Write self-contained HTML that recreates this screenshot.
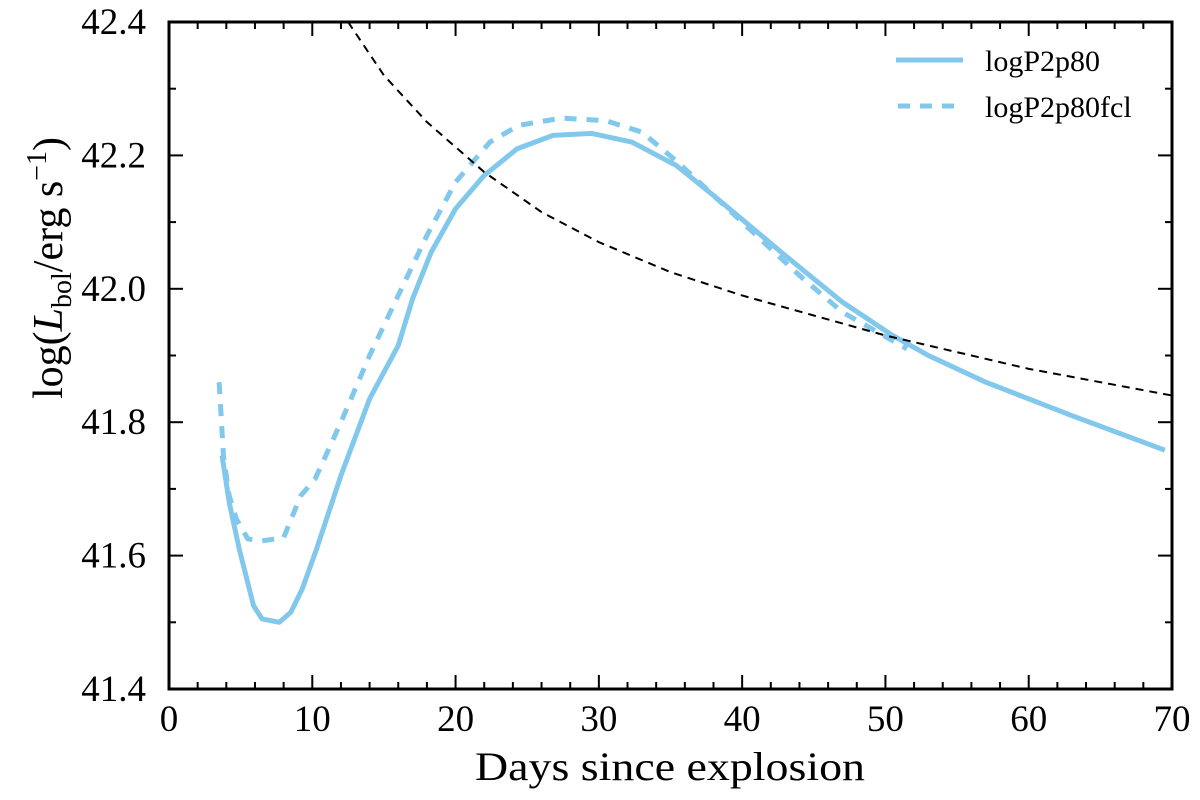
<!DOCTYPE html>
<html><head><meta charset="utf-8"><style>
html,body{margin:0;padding:0;background:#fff;}
svg text{font-family:"Liberation Serif",serif;fill:#000;}
</style></head><body>
<svg id="chart" width="1200" height="795" xmlns="http://www.w3.org/2000/svg">
<g id="ticks"></g>
<g id="series"></g>
<rect x="169" y="22" width="1003" height="667" fill="none" stroke="#000" stroke-width="3"/>
<text x="670" y="780" font-size="40" text-anchor="middle" textLength="390" lengthAdjust="spacingAndGlyphs">Days since explosion</text>
<text transform="translate(62,268) rotate(-90)" font-size="42" text-anchor="middle">log(<tspan font-style="italic">L</tspan><tspan font-size="28" dy="9">bol</tspan><tspan dy="-9">/erg s</tspan><tspan font-size="28" dy="-16">−1</tspan><tspan dy="16">)</tspan></text>
<g>
<line x1="896" y1="60" x2="963" y2="60" stroke="#82c8ec" stroke-width="5"/>
<text x="985" y="71" font-size="30">logP2p80</text>
<line x1="898" y1="106" x2="963" y2="106" stroke="#82c8ec" stroke-width="5" stroke-dasharray="12,10"/>
<text x="985" y="117" font-size="30">logP2p80fcl</text>
</g>
</svg>
<script>
const solidX=[3.7,4.2,4.9,5.9,6.5,7.7,8.5,9.3,10.3,12,14,16,17,18.3,20,22,24.3,26.8,29.5,32.3,35.4,38,40.5,43,47,50.5,53,57,63,69.5];
const solidY=[41.75,41.68,41.61,41.525,41.505,41.5,41.515,41.55,41.61,41.72,41.835,41.915,41.985,42.055,42.12,42.17,42.21,42.23,42.233,42.22,42.185,42.14,42.095,42.05,41.98,41.93,41.9,41.86,41.81,41.758];
const fclX=[3.5,3.8,4.2,4.7,5.5,6.5,8,9.2,10.2,12,14,16,18,20,22.4,24.4,27.4,30.5,33,35.5,38,41,44,47,51.5];
const fclY=[41.86,41.75,41.69,41.655,41.625,41.622,41.627,41.69,41.715,41.8,41.9,41.99,42.08,42.16,42.22,42.245,42.256,42.252,42.235,42.19,42.14,42.08,42.02,41.965,41.91];
const refX=[12.5,15,18,22,26,30,35,40,45,50,55,60,65,70];
const refY=[42.4,42.32,42.25,42.175,42.115,42.07,42.025,41.99,41.96,41.93,41.905,41.88,41.86,41.84];
const xTicks=[0,10,20,30,40,50,60,70];
const yTicks=[41.4,41.6,41.8,42.0,42.2,42.4];
const NS='http://www.w3.org/2000/svg';
const X=v=>169+v*(1003/70);
const Y=v=>689-(v-41.4)*667;
const tg=document.getElementById('ticks'), sg=document.getElementById('series');
function ln(g,x1,y1,x2,y2,w){const l=document.createElementNS(NS,'line');l.setAttribute('x1',x1);l.setAttribute('y1',y1);l.setAttribute('x2',x2);l.setAttribute('y2',y2);l.setAttribute('stroke','#000');l.setAttribute('stroke-width',w);g.appendChild(l);return l;}
for(let v=0;v<=70;v+=2){const big=v%10===0;const a=ln(tg,X(v),689,X(v),689-(big?14:7),2);


const b=ln(tg,X(v),22,X(v),22+(big?14:7),2);

}
for(let i=0;i<=10;i++){const v=41.4+i*0.1;const big=i%2===0;const a=ln(tg,169,Y(v),169+(big?14:7),Y(v),2);


const b=ln(tg,1172,Y(v),1172-(big?14:7),Y(v),2);

}
xTicks.forEach(v=>{const t=document.createElementNS(NS,'text');t.setAttribute('x',X(v));t.setAttribute('y',731);t.setAttribute('font-size','37');t.setAttribute('text-anchor','middle');t.textContent=v;


tg.appendChild(t);});
yTicks.forEach(v=>{const t=document.createElementNS(NS,'text');t.setAttribute('x',146);t.setAttribute('y',Y(v)+12);t.setAttribute('font-size','37');t.setAttribute('text-anchor','end');t.textContent=v.toFixed(1);


tg.appendChild(t);});
function series(xs,ys,color,w,dash,name){const p=document.createElementNS(NS,'polyline');p.setAttribute('points',xs.map((x,i)=>X(x)+','+Y(ys[i])).join(' '));p.setAttribute('fill','none');p.setAttribute('stroke',color);p.setAttribute('stroke-width',w);p.setAttribute('stroke-linejoin','round');if(dash)p.setAttribute('stroke-dasharray',dash);


sg.appendChild(p);}
series(solidX,solidY,'#82c8ec',5,null,'line-logP2p80');
series(fclX,fclY,'#82c8ec',5,'12,10','line-logP2p80fcl');
series(refX,refY,'#000',2,'8,6','reference-curve');
</script>
</body></html>
